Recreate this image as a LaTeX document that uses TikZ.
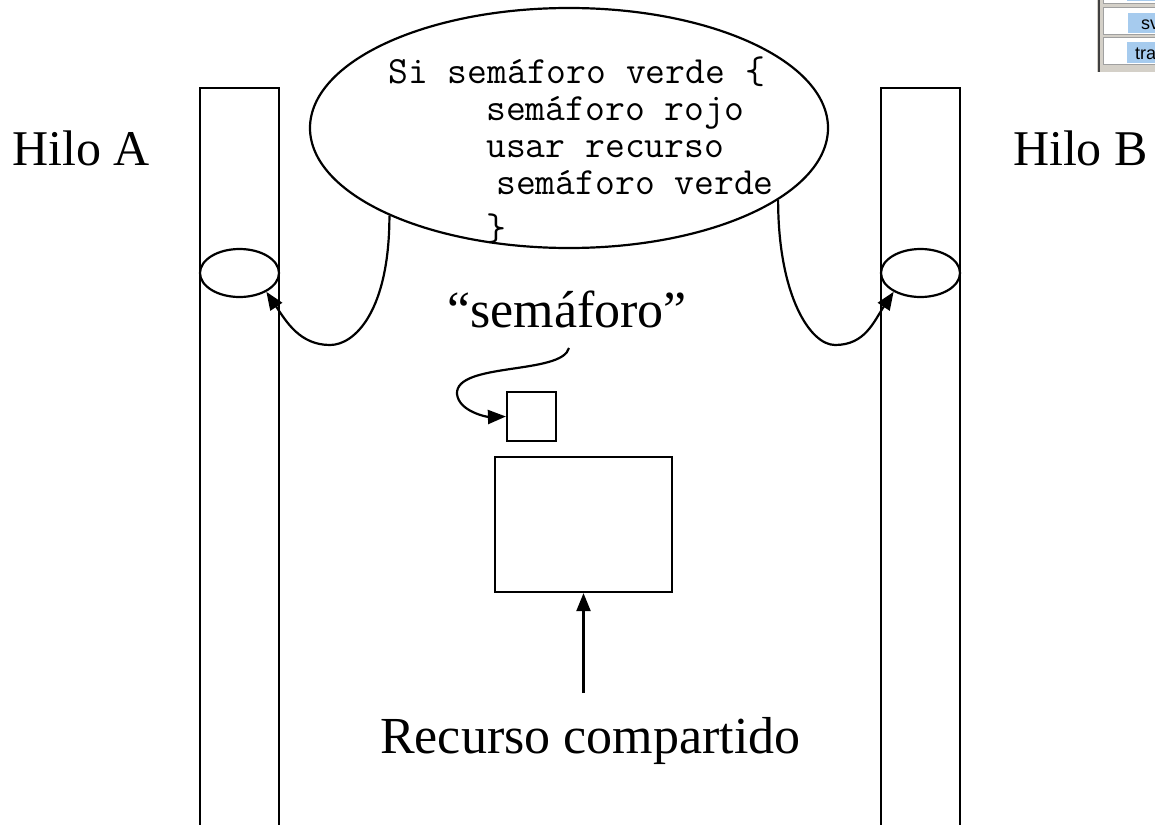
\documentclass[tikz,border=0pt]{standalone}
\usepackage{fontspec}
\setmainfont{Liberation Serif}
\newfontfamily\uifont{Liberation Sans}
\usetikzlibrary{shapes,arrows.meta,positioning}
\definecolor{mgray}{HTML}{D4D0C8}
\definecolor{mline}{HTML}{A0A0A0}
\definecolor{mblue}{HTML}{A6CBEE}
\tikzstyle{l1}=[line width=2.2pt]
\tikzstyle{arr}=[l1, -{Triangle[length=18pt, width=14pt]}]
\tikzstyle{colbox}=[rectangle, draw=black, l1, minimum width=79pt, minimum height=760pt, inner sep=0pt]
\tikzstyle{ring}=[ellipse, draw=black, l1, minimum width=79pt, minimum height=48pt, inner sep=0pt]
\tikzstyle{box}=[rectangle, draw=black, l1, inner sep=0pt]
\tikzstyle{title}=[font=\fontsize{50}{58}\selectfont, inner sep=0pt]
\tikzstyle{big}=[font=\fontsize{52}{60}\selectfont, inner sep=0pt]
\tikzstyle{code}=[font=\ttfamily\fontsize{38.5}{40}\selectfont, inner sep=0pt, anchor=base west]

\begin{document}
\begin{tikzpicture}[x=1pt,y=-1pt]
    \useasboundingbox (0,0) rectangle (1155,824);

    \node[colbox] (colA) at (239.5,468) {};
    \node[colbox] (colB) at (920.5,468) {};
    \node[ring] (semA) at (239.5,273) {};
    \node[ring] (semB) at (920.5,273) {};
    \node[title, anchor=base west] (hiloA) at (12,165) {Hilo A};
    \node[title, anchor=base east] (hiloB) at (1148,165) {Hilo B};

    \node[ellipse, draw=black, l1, minimum width=518pt, minimum height=240pt] (bubble) at (569,128) {};
    \node[code] (code1) at (388,84) {Si semáforo verde \{};
    \node[code] (code2) at (486,121) {semáforo rojo};
    \node[code] (code3) at (486,157) {usar recurso};
    \node[code] (code4) at (496,194) {semáforo verde};
    \node[code] (code5) at (486,240) {\}};

    \draw[arr] (bubble.206) .. controls +(0,95) and +(25,0) .. (330,345) .. controls +(-30,0) and +(20,30) .. (semA.-35);
    \draw[arr] (bubble.-19) .. controls +(0,95) and +(-25,0) .. (835,345) .. controls +(30,0) and +(-20,30) .. (semB.215);

    \node[big, anchor=base] (lblsem) at (567,327) {“semáforo”};
    \node[box, minimum size=49pt] (sem) at (531.5,416.5) {};
    \coordinate (semfoot) at (569,348);
    \draw[arr] (semfoot) .. controls (562,375) and (455,362) .. (457,394) .. controls (459,412) and (488,417) .. (sem.west);

    \node[box, minimum width=177pt, minimum height=135pt] (res) at (583.5,524.5) {};
    \node[big, anchor=base west] (lblres) at (380,753) {Recurso compartido};
    \coordinate (resfoot) at (583.5,693);
    \draw[arr] (resfoot) -- (res.south);

    % corner of a screenshot
    \fill[mgray] (1097,0) rectangle (1155,72);
    \draw[line width=1.5, black!75] (1099,0) -- (1099,72);
    \foreach \ya/\yb in {-10/4, 8/35, 38/65}
        \filldraw[fill=white, draw=mline, line width=1] (1103,\ya) rectangle (1160,\yb);
    \fill[mblue] (1127,-5) rectangle (1160,1);
    \fill[mblue] (1128,13) rectangle (1160,33);
    \fill[mblue] (1127,42) rectangle (1160,63);
    \node[anchor=base west, inner sep=0pt, font=\uifont\fontsize{18}{20}\selectfont] (sv) at (1141,30) {sv};
    \node[anchor=base west, inner sep=0pt, font=\uifont\fontsize{18}{20}\selectfont] (tra) at (1135,60) {tra};
\end{tikzpicture}
\end{document}
